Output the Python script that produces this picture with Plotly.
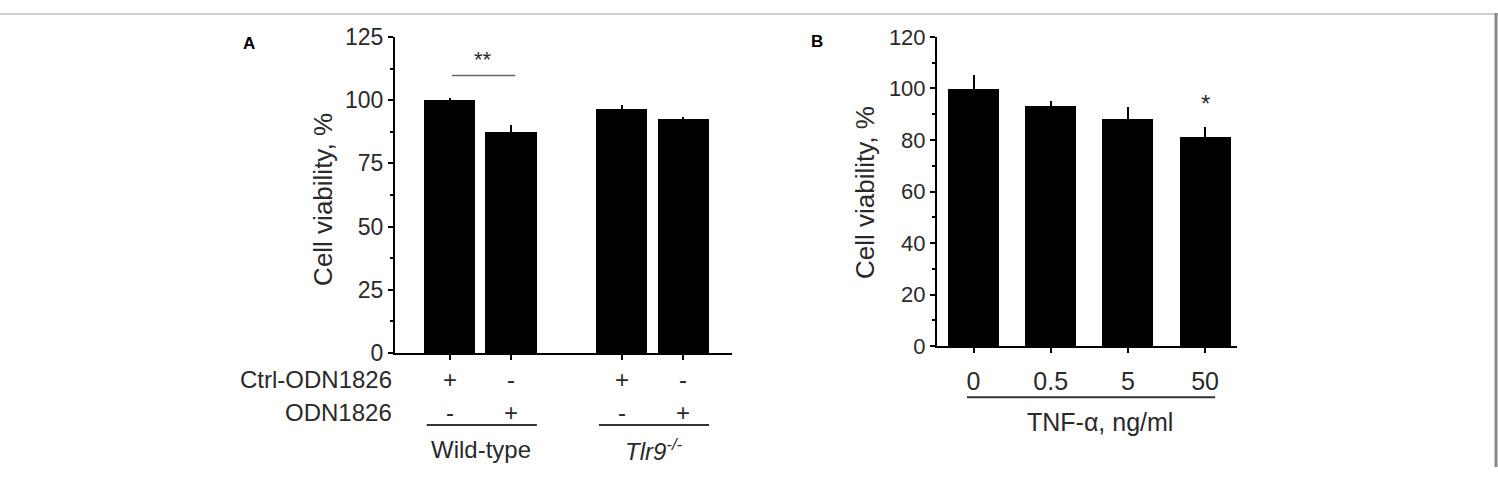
import plotly.graph_objects as go

# ---------------- data ----------------
# Panel A
a_values = [100.0, 87.5, 96.7, 92.4]
a_errors = [1.0, 2.5, 1.5, 0.8]
a_ctrl_signs = ["+", "-", "+", "-"]
a_odn_signs = ["-", "+", "-", "+"]
a_groups = ["Wild-type", "<i>Tlr9</i><sup><i>-/-</i></sup>"]
a_row_labels = ["Ctrl-ODN1826", "ODN1826"]
a_yticks = [0, 25, 50, 75, 100, 125]

# Panel B
b_labels = ["0", "0.5", "5", "50"]
b_values = [100.0, 93.4, 88.0, 81.2]
b_errors = [5.2, 1.6, 4.7, 3.8]
b_xtitle = "TNF-α, ng/ml"
b_yticks = [0, 20, 40, 60, 80, 100, 120]

ytitle = "Cell viability, %"

# ---------------- layout constants ----------------
W, H = 1498, 480
FONT = "Liberation Sans, Arial, sans-serif"
TXT = "#2a2a2a"
a_pos = [0, 1, 2.8, 3.8]
b_pos = [0, 1, 2, 3]

# photographed page maps figure y -> image y approx  y_img = Y_OFF + Y_SCALE * y_fig
Y_OFF, Y_SCALE = 10.7, 0.958


def px_x(p):
    return p / W


def px_y(p_img):
    """paper y for a target pixel row in the final picture"""
    y_fig = (p_img - Y_OFF) / Y_SCALE
    return 1 - y_fig / H


fig = go.Figure()

fig.add_trace(go.Bar(
    x=a_pos, y=a_values, width=0.83,
    marker=dict(color="black", line=dict(width=0)),
    error_y=dict(type="data", array=a_errors, color="black", thickness=2, width=0),
    xaxis="x", yaxis="y", showlegend=False, hoverinfo="skip"))

fig.add_trace(go.Bar(
    x=b_pos, y=b_values, width=0.66,
    marker=dict(color="black", line=dict(width=0)),
    error_y=dict(type="data", array=b_errors, color="black", thickness=2, width=0),
    xaxis="x2", yaxis="y2", showlegend=False, hoverinfo="skip"))

axis_common = dict(showline=True, linecolor="black", linewidth=2, showgrid=False,
                   zeroline=False, ticks="outside", tickcolor="black", tickwidth=2,
                   ticklen=5, fixedrange=True)

fig.update_layout(
    width=W, height=H,
    margin=dict(l=0, r=0, t=0, b=0),
    paper_bgcolor="white", plot_bgcolor="white",
    font=dict(family=FONT, color=TXT),
    bargap=0,
    xaxis=dict(domain=[px_x(395), px_x(732)], range=[-0.886, 4.593],
               tickvals=a_pos, showticklabels=False, anchor="y", **axis_common),
    yaxis=dict(domain=[px_y(355), px_y(35)], range=[0, 125], tickvals=a_yticks,
               tickfont=dict(size=23, color=TXT), anchor="x",
               minor=dict(ticks="outside", ticklen=3, tickwidth=1.5, tickcolor="black",
                          dtick=12.5, tick0=0, showgrid=False),
               **axis_common),
    xaxis2=dict(domain=[px_x(937), px_x(1237)], range=[-0.473, 3.413],
                tickvals=b_pos, ticktext=b_labels, tickfont=dict(size=25, color=TXT),
                ticklabelstandoff=7, anchor="y2", **axis_common),
    yaxis2=dict(domain=[px_y(348), px_y(35)], range=[0, 120], tickvals=b_yticks,
                tickfont=dict(size=22, color=TXT), anchor="x2",
                minor=dict(ticks="outside", ticklen=3, tickwidth=1.5, tickcolor="black",
                           dtick=10, tick0=0, showgrid=False),
                **axis_common),
)

ann = []
# y titles
ann.append(dict(text=ytitle, x=px_x(323), y=px_y(200), xref="paper", yref="paper",
                textangle=-90, showarrow=False, font=dict(size=26, color=TXT),
                xanchor="center", yanchor="middle"))
ann.append(dict(text=ytitle, x=px_x(865), y=px_y(193), xref="paper", yref="paper",
                textangle=-90, showarrow=False, font=dict(size=26, color=TXT),
                xanchor="center", yanchor="middle"))
# panel letters
ann.append(dict(text="<b>A</b>", x=px_x(249), y=px_y(42), xref="paper", yref="paper",
                showarrow=False, font=dict(size=17, color="black"),
                xanchor="center", yanchor="middle"))
ann.append(dict(text="<b>B</b>", x=px_x(817), y=px_y(40), xref="paper", yref="paper",
                showarrow=False, font=dict(size=17, color="black"),
                xanchor="center", yanchor="middle"))

# Panel A row labels and signs
row_y = [382, 415]
for lbl, ry in zip(a_row_labels, row_y):
    ann.append(dict(text=lbl, x=px_x(394), y=px_y(ry), xref="paper", yref="paper",
                    showarrow=False, font=dict(size=24, color=TXT),
                    xanchor="right", yanchor="middle"))
for signs, ry in zip([a_ctrl_signs, a_odn_signs], row_y):
    for p, s in zip(a_pos, signs):
        ann.append(dict(text=s, x=p, y=px_y(ry), xref="x", yref="paper",
                        showarrow=False, font=dict(size=24, color=TXT),
                        xanchor="center", yanchor="middle"))

# group underlines and labels
groups_span = [(a_pos[0], a_pos[1]), (a_pos[2], a_pos[3])]
shapes = []
for (g0, g1), gl in zip(groups_span, a_groups):
    shapes.append(dict(type="line", xref="x", yref="paper", x0=g0 - 0.37, x1=g1 + 0.42,
                       y0=px_y(428), y1=px_y(428), line=dict(color="#333", width=2)))
    ann.append(dict(text=gl, x=(g0 + g1) / 2 + 0.02, y=px_y(453), xref="x", yref="paper",
                    showarrow=False, font=dict(size=24, color=TXT),
                    xanchor="center", yanchor="middle"))

# significance in A
shapes.append(dict(type="line", xref="x", yref="y", x0=a_pos[0] + 0.04, x1=a_pos[1] + 0.07,
                   y0=109.8, y1=109.8, line=dict(color="#666", width=1.5)))
ann.append(dict(text="**", x=(a_pos[0] + a_pos[1]) / 2 + 0.05, y=110.5, xref="x", yref="y",
                showarrow=False, font=dict(size=22, color=TXT),
                xanchor="center", yanchor="bottom"))

# Panel B underline + title + star
shapes.append(dict(type="line", xref="x2", yref="paper", x0=b_pos[0] - 0.084, x1=b_pos[-1] + 0.13,
                   y0=px_y(400), y1=px_y(400), line=dict(color="#333", width=2)))
ann.append(dict(text=b_xtitle, x=1.64, y=px_y(425), xref="x2", yref="paper",
                showarrow=False, font=dict(size=25, color=TXT),
                xanchor="center", yanchor="middle"))
ann.append(dict(text="*", x=b_pos[3], y=b_values[3] + b_errors[3] + 3, xref="x2", yref="y2",
                showarrow=False, font=dict(size=24, color=TXT),
                xanchor="center", yanchor="bottom"))

# figure frame
shapes.append(dict(type="line", xref="paper", yref="paper", x0=0, x1=1, y0=0.998, y1=0.998,
                   line=dict(color="#cfcfcf", width=2)))
shapes.append(dict(type="line", xref="paper", yref="paper", x0=px_x(1496), x1=px_x(1496),
                   y0=0, y1=1, line=dict(color="#888", width=3)))

fig.update_layout(annotations=ann, shapes=shapes)

fig.write_html("out.html")
